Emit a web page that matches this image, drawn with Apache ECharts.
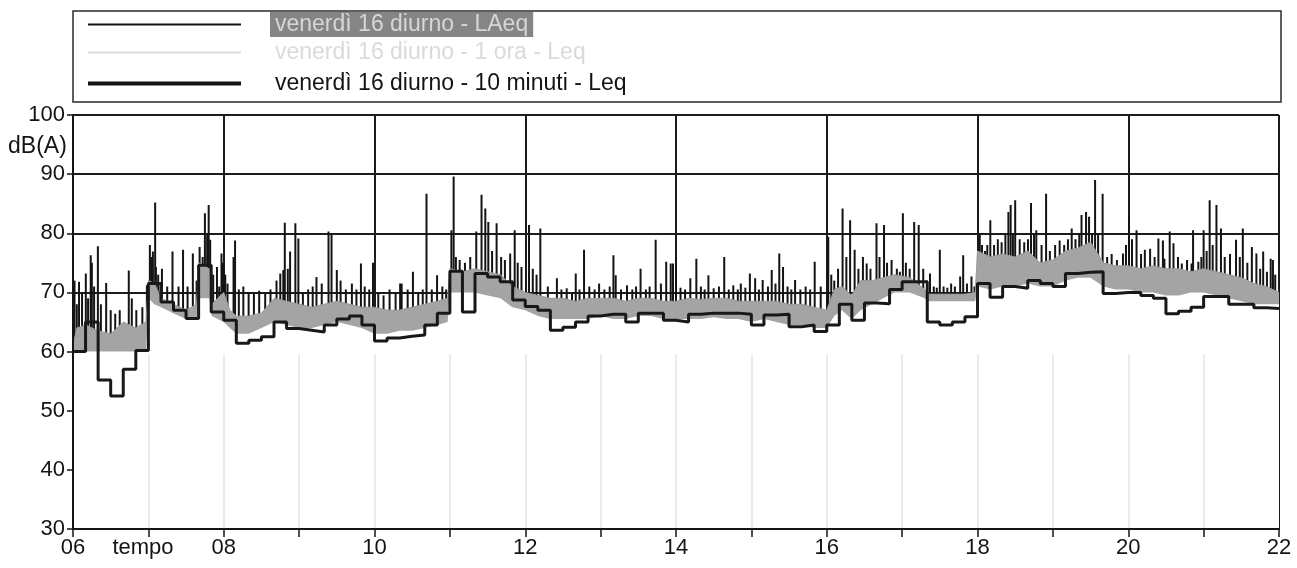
<!DOCTYPE html>
<html><head><meta charset="utf-8">
<script src="https://cdn.jsdelivr.net/npm/echarts@6/dist/echarts.min.js"></script>
<style>html,body{margin:0;padding:0;background:#fff}#c{width:1297px;height:568px}</style>
</head><body><div id="c"></div>
<script>
// ---------- data ----------
const seriesNames = ['venerdì 16 diurno - LAeq', 'venerdì 16 diurno - 1 ora - Leq', 'venerdì 16 diurno - 10 minuti - Leq'];
const xTickLabels = ['06', '08', '10', '12', '14', '16', '18', '20', '22'];
const yTickLabels = ['30', '40', '50', '60', '70', '80', '90', '100'];

// 10-minute Leq, one value per 10 minutes starting 06:00
const leq10Start = 6;
const leq10Values = [
  60, 65, 55.2, 52.5, 57, 60.2,
  71.5, 68.4, 67, 65.6, 74.6, 66.7,
  65.3, 61.4, 61.9, 62.5, 65, 63.9,
  63.6, 63.3, 64.5, 65.5, 66, 64.5,
  61.8, 62.3, 62.6, 62.8, 64.5, 66.5,
  73.6, 66.7, 73.2, 72.6, 71.8, 68.7,
  67.6, 67, 63.6, 64.1, 65, 66,
  66.3, 66.3, 65, 66.5, 66.5, 65.3,
  65, 66.3, 66.5, 66.5, 66.5, 66.3,
  64.5, 66.2, 66.3, 64.2, 64.5, 63.4,
  64.5, 68, 65.3, 68.2, 68.1, 70.5,
  71.8, 71.8, 65, 64.5, 65, 65.9,
  71.5, 69.2, 71, 70.7, 72, 71.5,
  71, 73.2, 73.4, 73.5, 69.8, 70,
  70, 69.5, 69, 66.4, 66.8, 67.5,
  69.3, 69.3, 68, 68, 67.4, 67.3
];

// hourly Leq series (switched off in the legend, nothing drawn)
const leqHourly = [];

// LAeq: dense band (low / high envelope) at these times (hours)
const bandTime = [
  6.00, 6.05, 6.17, 6.33, 6.50, 6.67, 6.83, 6.97,
  7.00, 7.08, 7.17, 7.33, 7.50, 7.64, 7.67, 7.81, 7.84,
  8.00, 8.08, 8.17, 8.33, 8.50, 8.67, 8.83,
  9.00, 9.17, 9.33, 9.50, 9.67, 9.83,
  10.00, 10.17, 10.33, 10.50, 10.67, 10.83, 10.97,
  11.00, 11.17, 11.33, 11.50, 11.67, 11.83,
  12.00, 12.17, 12.33, 12.50, 12.67, 12.83,
  13.00, 13.17, 13.33, 13.50, 13.67, 13.83,
  14.00, 14.17, 14.33, 14.50, 14.67, 14.83,
  15.00, 15.17, 15.33, 15.50, 15.67, 15.83,
  16.00, 16.10, 16.20, 16.33, 16.45, 16.60, 16.75, 16.90,
  17.10, 17.30, 17.33, 17.50, 17.67, 17.83, 17.97,
  18.00, 18.17, 18.33, 18.50, 18.67, 18.83,
  19.00, 19.17, 19.33, 19.50, 19.67, 19.83,
  20.00, 20.17, 20.33, 20.50, 20.67, 20.83,
  21.00, 21.17, 21.33, 21.50, 21.67, 21.83,
  22.00
];
const bandLow = [
  60, 60, 60, 60, 60, 60, 60, 60,
  69, 68, 67.5, 66.5, 65.5, 65.5, 69, 69, 66,
  65, 64, 63, 63, 64, 65, 64.5,
  64, 64, 64.5, 65, 64.5, 64,
  63, 63, 63.5, 63.5, 64, 64.5, 65,
  70, 70, 70, 69.5, 69, 67.5,
  67, 66, 65.5, 65.5, 65.5, 65.5,
  66, 65.5, 65.5, 66, 66, 65.5,
  65.5, 65.5, 65.5, 65.8, 65.5, 65.5,
  65, 65.5, 65, 64.5, 64.5, 64,
  64, 66, 67, 65.5, 67, 68, 69, 70,
  70, 69, 68.5, 68.5, 68.5, 68.5, 68.5,
  71, 70.5, 71, 71, 71.5, 71,
  71, 72, 72.5, 72.5, 71, 70.5,
  70.5, 70, 70, 69.5, 69.5, 70,
  70, 69.5, 69, 68.5, 68, 68,
  68
];
const bandHigh = [
  61, 64, 64.5, 63.5, 63, 65, 64, 65,
  72, 71.5, 69, 68, 67, 68, 75, 74, 68,
  70, 67, 66, 66, 66.5, 69, 68.5,
  68, 67.5, 68, 68.5, 68, 67.5,
  67.5, 67, 67, 67.5, 68, 68.5, 69,
  74, 73.5, 74, 73.5, 73, 71,
  70, 69.5, 69, 69, 68.5, 69,
  69, 69, 68.5, 69, 69, 68.5,
  68.5, 69, 68.8, 69, 69, 68.5,
  68.5, 68.5, 68.5, 68, 68, 67.5,
  67, 70.5, 71, 69.5, 72, 72, 72.5, 73,
  72.5, 70.5, 69.7, 69.7, 69.7, 69.7, 70,
  77, 76, 76.5, 76, 77, 75,
  75.5, 77, 77.5, 78.5, 75, 74.5,
  74.5, 74, 74.5, 74, 74, 73.5,
  74, 73.5, 73, 72.5, 71.5, 71,
  70
];

// LAeq short peaks: [time (h), peak dB(A)]
const laeqPeaks = [
  [6.02,72],[6.05,68],[6.08,71.8],[6.12,70],[6.17,73.2],[6.2,69],[6.235,76.3],[6.25,75],[6.28,71],[6.33,77.8],
  [6.37,68],[6.44,71.6],[6.5,67],[6.56,66.4],[6.62,67],[6.74,73.7],[6.78,69],[6.84,67],[6.92,67.5],[6.98,71.2],
  [7.02,78],[7.04,76],[7.06,76.9],[7.09,85.2],[7.1,74.3],[7.13,73],[7.18,74],[7.25,71],[7.32,76.9],[7.4,71],
  [7.46,77.2],[7.52,71],[7.59,76.6],[7.64,72],[7.68,77.7],[7.72,76],[7.75,83.4],[7.78,80],[7.8,84.8],[7.82,78.9],
  [7.86,73],[7.91,74.3],[7.94,71],[7.97,76.6],[7.99,75],
  [8.02,73],[8.05,71.5],[8.13,76],[8.15,78.8],[8.2,70.5],[8.26,71],[8.33,70],[8.4,69.8],[8.47,70.3],[8.55,70],
  [8.62,70.5],[8.7,72],[8.75,73.2],[8.79,73.8],[8.81,81.8],[8.85,74],[8.88,76.9],[8.95,81.7],[8.99,79.1],
  [9.05,70],[9.12,70.5],[9.18,71],[9.23,72.6],[9.3,71.5],[9.39,80.3],[9.43,80],[9.5,73.8],[9.55,72],[9.62,70.5],
  [9.7,71.5],[9.76,70.5],[9.82,74.9],[9.87,71],[9.93,70.5],[9.98,75],
  [10.05,70],[10.12,69.5],[10.2,70.5],[10.28,70],[10.34,71.5],[10.36,71.5],[10.44,70.5],[10.51,73.5],[10.58,70],
  [10.64,70.5],[10.69,86.7],[10.76,70.5],[10.83,72.9],[10.9,71],[10.95,70.5],
  [11.02,80.5],[11.05,89.6],[11.08,76],[11.13,75.5],[11.2,75],[11.27,76],[11.35,80.3],[11.42,86.5],[11.47,84.2],
  [11.51,81.9],[11.56,77],[11.62,81.7],[11.68,76],[11.73,75.5],[11.8,76.6],[11.86,80.5],[11.9,75],[11.95,74.3],
  [12.05,81.4],[12.1,74],[12.15,73],[12.2,80.8],[12.3,71],[12.42,72.4],[12.48,70.5],[12.55,70.7],[12.62,70],
  [12.67,73.2],[12.72,70.5],[12.78,77.2],[12.85,71],[12.92,70.5],[12.98,71.5],
  [13.05,70.5],[13.12,71],[13.17,76.3],[13.2,72.9],[13.27,70.5],[13.35,71.2],[13.42,70.5],[13.47,71],[13.53,74],
  [13.6,70.5],[13.65,71],[13.73,78.9],[13.8,71.5],[13.87,75.2],[13.93,74.9],[13.96,74.9],
  [14.0,76],[14.06,70.8],[14.12,70.5],[14.19,72.4],[14.27,75.7],[14.33,71],[14.38,70.5],[14.43,72.9],[14.5,70.7],
  [14.57,71],[14.64,76],[14.7,70.5],[14.76,71.2],[14.82,70.5],[14.86,71.5],[14.92,70.8],[14.98,73.2],
  [15.05,72.4],[15.1,70.5],[15.15,72.1],[15.22,71],[15.27,73.8],[15.32,71.5],[15.37,76.6],[15.42,74.3],[15.48,71],
  [15.53,70.5],[15.58,72.1],[15.65,70.5],[15.72,71],[15.78,70.5],[15.84,75.2],[15.92,71],
  [16.02,79.4],[16.06,73],[16.1,72],[16.15,74],[16.21,84.2],[16.26,76],[16.31,82.2],[16.37,77.2],[16.42,74],
  [16.48,76],[16.53,74.9],[16.58,74],[16.66,81.7],[16.7,76],[16.76,81.4],[16.8,75],[16.86,75.5],[16.93,74],[16.97,73.5],
  [17.01,83.4],[17.05,75],[17.1,74],[17.16,81.9],[17.22,81.4],[17.28,74],[17.33,72],[17.37,73.2],[17.42,71],
  [17.46,70.8],[17.5,77.2],[17.55,71],[17.6,70.8],[17.65,71.5],[17.7,71],[17.77,72.7],[17.81,76.3],[17.86,71.5],
  [17.92,72.7],[17.96,71],
  [18.03,80],[18.06,78],[18.1,77],[18.13,78],[18.17,82.2],[18.22,78],[18.27,79],[18.32,78.5],[18.37,80],[18.41,83.6],
  [18.44,84.8],[18.47,80],[18.5,85.6],[18.56,79],[18.62,78.5],[18.67,79],[18.71,85.1],[18.75,80],[18.78,80.5],
  [18.85,78],[18.91,86.7],[18.96,77],
  [19.03,78],[19.09,78.8],[19.15,78],[19.2,79],[19.25,80.8],[19.3,79],[19.35,80],[19.38,83.1],[19.44,83.6],
  [19.48,82.8],[19.52,80],[19.56,89],[19.6,80],[19.66,86.7],[19.72,76],[19.78,76.5],[19.85,75.5],[19.93,76.6],[19.97,78],
  [20.01,83.1],[20.05,79],[20.11,80.5],[20.17,76.5],[20.22,77.2],[20.29,77.4],[20.35,76],[20.4,79.1],[20.46,78.8],
  [20.48,75.7],[20.55,80.3],[20.6,78.3],[20.66,76],[20.71,74.9],[20.78,75.5],[20.84,74.9],[20.86,80.5],[20.93,75.2],[20.97,76],
  [21.0,80.5],[21.04,77],[21.08,85.6],[21.12,78],[21.17,84.8],[21.23,80.8],[21.28,76],[21.35,76.5],[21.43,78.9],
  [21.48,76],[21.52,80.8],[21.58,75],[21.64,77.7],[21.7,76.6],[21.75,74],[21.79,76.9],[21.84,73.5],[21.89,75.7],
  [21.92,75.5],[21.95,73]
];

// ---------- chart ----------
const FONT = "'Liberation Sans', Arial, Helvetica, sans-serif";
const INK = '#141414';

const leq10Data = leq10Values.map((v, i) => [leq10Start + i / 6, v]);
leq10Data.push([22, leq10Values[leq10Values.length - 1]]);
const bandHighData = bandTime.map((t, i) => [t, bandHigh[i]]);
const bandLowData = bandTime.map((t, i) => [t, bandLow[i]]);

// faint hour lines in the empty lower part of the plot (one per hour tick)
const hourLines = [];
for (let h = 7; h < 22; h++) hourLines.push([{ coord: [h, 30] }, { coord: [h, 59.5] }]);

function legendFor(name, top, iconH, tStyle, extra) {
  return Object.assign({
    orient: 'vertical', left: 88, top: top, padding: 0,
    itemWidth: 153, itemHeight: iconH, icon: 'rect',
    data: [{ name: name, itemStyle: { color: INK } }],
    formatter: n => '{g|}{t|' + n + '}',
    textStyle: {
      fontFamily: FONT, fontSize: 23, color: INK,
      rich: { g: { width: 24, height: 10 }, t: Object.assign({ fontFamily: FONT, fontSize: 23, lineHeight: 24, padding: [0, 5] }, tStyle) }
    }
  }, extra || {});
}

const option = {
  animation: false,
  backgroundColor: '#ffffff',
  grid: { left: 73, right: 18, top: 115, bottom: 39, containLabel: false, outerBoundsMode: 'none' },
  legend: [
    legendFor(seriesNames[0], 12, 2, { backgroundColor: '#858585', color: '#d6d6d6', padding: [1, 5] }),
    legendFor(seriesNames[1], 41, 2, {}, { selected: { [seriesNames[1]]: false }, inactiveColor: '#dadada', inactiveBorderColor: '#dadada' }),
    legendFor(seriesNames[2], 72, 4, {})
  ],
  xAxis: [
    { type: 'value', min: 6, max: 22, interval: 2, position: 'bottom',
      axisLine: { show: false }, axisTick: { show: false }, axisLabel: { show: false },
      splitLine: { show: true, lineStyle: { color: '#1c1c1c', width: 2 } } },
    { type: 'value', min: 6, max: 22, interval: 1, position: 'bottom', z: 10,
      axisLine: { show: true, lineStyle: { color: INK, width: 2 } },
      axisTick: { show: true, length: 8, lineStyle: { color: INK, width: 1.5 } },
      axisLabel: { show: true, margin: 8, fontFamily: FONT, fontSize: 22, color: INK,
        formatter: v => (v % 2 === 0 ? xTickLabels[(v - 6) / 2] : '') },
      splitLine: { show: false } }
  ],
  yAxis: [
    { type: 'value', min: 30, max: 100, interval: 10, startValue: 30,
      axisLine: { show: false }, axisTick: { show: false }, axisLabel: { show: false },
      splitLine: { show: true, lineStyle: { color: '#1c1c1c', width: 2 } } },
    { type: 'value', min: 30, max: 100, interval: 10, position: 'left', z: 10,
      axisLine: { show: true, lineStyle: { color: INK, width: 2 } },
      axisTick: { show: true, length: 6, lineStyle: { color: INK, width: 1.5 } },
      axisLabel: { show: true, margin: 8, fontFamily: FONT, fontSize: 22, color: INK,
        formatter: v => yTickLabels[Math.round((v - 30) / 10)] },
      splitLine: { show: false } }
  ],
  graphic: [
    { type: 'rect', z: 0, shape: { x: 73, y: 11, width: 1208, height: 91 },
      style: { fill: 'none', stroke: '#2a2a2a', lineWidth: 1.5 } },
    { type: 'text', z: 20, x: 8, y: 147,
      style: { text: 'dB(A)', font: '23px ' + FONT, fill: INK, align: 'left', verticalAlign: 'middle' } },
    { type: 'text', z: 20, x: 143, y: 548,
      style: { text: 'tempo', font: '22px ' + FONT, fill: INK, align: 'center', verticalAlign: 'middle' } }
  ],
  series: [
    { name: seriesNames[0], type: 'bar', xAxisIndex: 0, yAxisIndex: 0, data: laeqPeaks,
      barWidth: 2, clip: true, silent: true, itemStyle: { color: INK } },
    { name: seriesNames[0], type: 'line', xAxisIndex: 0, yAxisIndex: 0, data: bandHighData,
      symbol: 'none', silent: true, lineStyle: { width: 1, color: '#9a9a9a' },
      itemStyle: { color: INK }, areaStyle: { color: '#a4a4a4', opacity: 1 } },
    { name: seriesNames[0], type: 'line', xAxisIndex: 0, yAxisIndex: 0, data: bandLowData,
      symbol: 'none', silent: true, lineStyle: { width: 0, color: '#ffffff' },
      itemStyle: { color: INK }, areaStyle: { color: '#ffffff', opacity: 1 },
      markLine: { silent: true, symbol: 'none', label: { show: false }, animation: false,
        lineStyle: { color: '#ebebeb', width: 2, type: 'solid' }, data: hourLines } },
    { name: seriesNames[1], type: 'line', xAxisIndex: 0, yAxisIndex: 0, data: leqHourly,
      symbol: 'none', silent: true, itemStyle: { color: '#bdbdbd' }, lineStyle: { color: '#bdbdbd', type: 'dotted' } },
    { name: seriesNames[2], type: 'line', xAxisIndex: 0, yAxisIndex: 0, data: leq10Data, step: 'end',
      symbol: 'none', silent: true, itemStyle: { color: INK }, lineStyle: { color: '#181818', width: 3 } }
  ]
};

const chart = echarts.init(document.getElementById('c'), null, { renderer: 'canvas' });
chart.setOption(option);
</script>
</body></html>
